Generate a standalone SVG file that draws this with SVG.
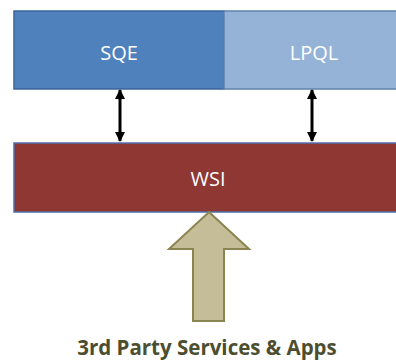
<svg xmlns="http://www.w3.org/2000/svg" width="396" height="360" viewBox="0 0 396 360">
<style>
.lbl{font-family:"Open Sans","Liberation Sans",sans-serif;font-size:20px;fill:#ffffff;text-anchor:middle}
.cap{font-family:"Open Sans","Liberation Sans",sans-serif;font-size:20.5px;font-weight:bold;fill:#4d4d30;text-anchor:middle}
.conn{stroke:#000;stroke-width:3;fill:none}
</style>
<defs>
<marker id="ah" viewBox="0 0 10 10" refX="9" refY="5" markerWidth="3.4" markerHeight="3.4" orient="auto-start-reverse" markerUnits="strokeWidth">
<path d="M0,0 L10,5 L0,10 z" fill="#000"/>
</marker>
</defs>
<rect width="396" height="360" fill="#ffffff"/>
<g id="sqe">
<rect x="14" y="11" width="210" height="78" fill="#4f81bd" stroke="#3a659a" stroke-width="1.5"/>
<text class="lbl" x="119" y="60">SQE</text>
</g>
<g id="lpql">
<rect x="224" y="11" width="180" height="78" fill="#95b3d7" stroke="#5f82ad" stroke-width="1.5"/>
<text class="lbl" x="314" y="60">LPQL</text>
</g>
<g id="wsi">
<rect x="14" y="143" width="390" height="69" fill="#8e3733" stroke="#4f6fa8" stroke-width="1.5"/>
<text class="lbl" x="208" y="186">WSI</text>
</g>
<g id="apps">
<path d="M209,212 L249,249 L224,249 L224,321 L193,321 L193,249 L169,249 Z" fill="#c4bd97" stroke="#8a8450" stroke-width="2"/>
<text class="cap" x="207" y="355">3rd Party Services &amp; Apps</text>
</g>
<g id="connectors">
<line class="conn" x1="120" y1="90" x2="120" y2="141" marker-start="url(#ah)" marker-end="url(#ah)"/>
<line class="conn" x1="312" y1="90" x2="312" y2="141" marker-start="url(#ah)" marker-end="url(#ah)"/>
</g>
</svg>
